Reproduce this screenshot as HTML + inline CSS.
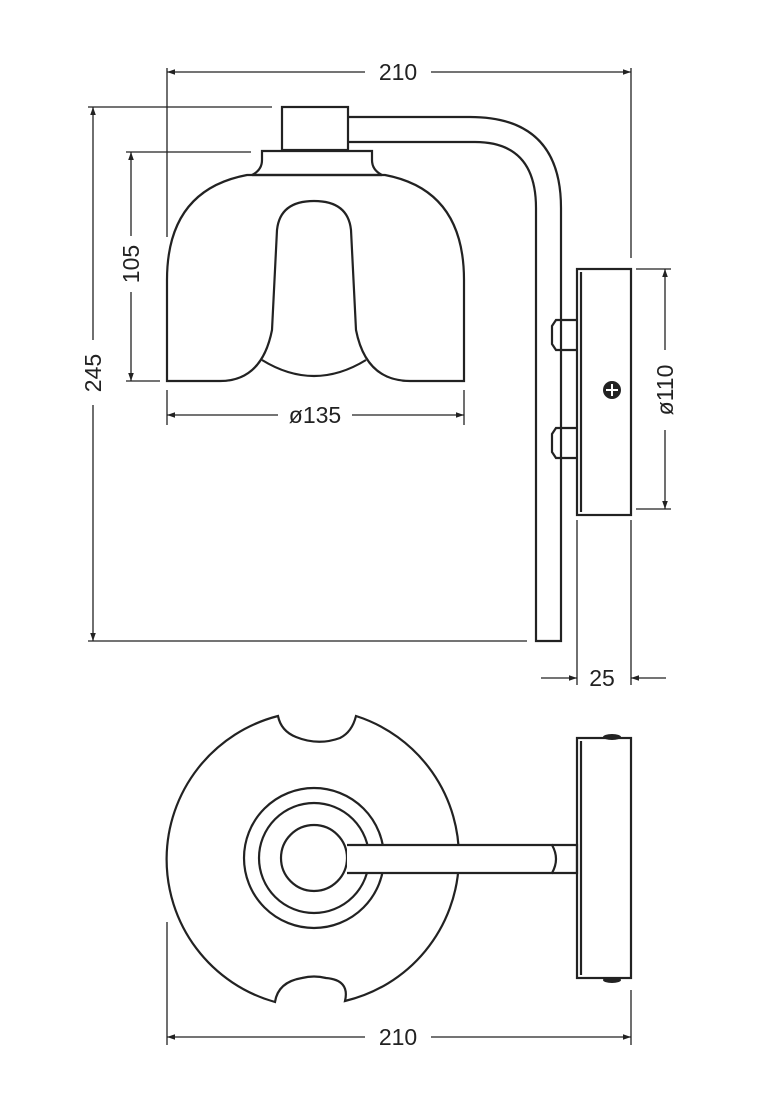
<!DOCTYPE html>
<html><head><style>body{margin:0;background:#fff}svg{display:block}text{font-family:"Liberation Sans",sans-serif;font-size:23px;fill:#222}</style></head><body>
<svg width="759" height="1113" viewBox="0 0 759 1113" xmlns="http://www.w3.org/2000/svg">
<defs><marker id="a" viewBox="0 0 10 10" refX="10" refY="5" markerWidth="10" markerHeight="8" orient="auto-start-reverse" markerUnits="userSpaceOnUse"><path d="M0,1.5L10,5L0,8.5z" fill="#222"/></marker></defs>
<g fill="none" stroke="#222" stroke-width="2.2">
<path d="M348,117 H470 Q561,117 561,208 V641 H536 V208 Q536,142 475,142 H348"/>
<path d="M348,117 Q342,130 348,142"/>
<rect x="282" y="107" width="66" height="43" fill="#fff"/>
<path d="M252,175 Q262,170 262,160 L262,151 H372 V160 Q372,170 382,175 Z"/>
<path d="M247,175 Q167,190 167,280 V381 H220 Q262,381 272,330 L277,230 Q280,201 314,201 Q348,201 351,230 L356,330 Q366,381 410,381 H464 V280 Q464,190 385,175 Z"/>
<path d="M262,360 Q314,392 366,360"/>
<rect x="577" y="269" width="54" height="246"/>
<line x1="581" y1="272" x2="581" y2="512"/>
<path d="M577,320 H556 L552,326 V344 L556,350 H577"/>
<path d="M577,428 H556 L552,434 V452 L556,458 H577"/>
</g>
<circle cx="612" cy="390" r="9" fill="#222"/>
<path d="M612,384V396M606,390H618" stroke="#fff" stroke-width="2"/>
<g stroke="#222" stroke-width="1.3" fill="none">
<line x1="167" y1="68" x2="167" y2="237"/><line x1="631" y1="68" x2="631" y2="258"/>
<line x1="167" y1="72" x2="365" y2="72" marker-start="url(#a)"/><line x1="431" y1="72" x2="631" y2="72" marker-end="url(#a)"/>
<line x1="88" y1="107" x2="272" y2="107"/><line x1="88" y1="641" x2="527" y2="641"/>
<line x1="93" y1="107" x2="93" y2="340" marker-start="url(#a)"/><line x1="93" y1="405" x2="93" y2="641" marker-end="url(#a)"/>
<line x1="126" y1="152" x2="251" y2="152"/><line x1="126" y1="381" x2="160" y2="381"/>
<line x1="131" y1="152" x2="131" y2="236" marker-start="url(#a)"/><line x1="131" y1="292" x2="131" y2="381" marker-end="url(#a)"/>
<line x1="167" y1="390" x2="167" y2="425"/><line x1="464" y1="390" x2="464" y2="425"/>
<line x1="167" y1="415" x2="278" y2="415" marker-start="url(#a)"/><line x1="352" y1="415" x2="464" y2="415" marker-end="url(#a)"/>
<line x1="636" y1="269" x2="671" y2="269"/><line x1="636" y1="509" x2="671" y2="509"/>
<line x1="665" y1="269" x2="665" y2="350" marker-start="url(#a)"/><line x1="665" y1="430" x2="665" y2="509" marker-end="url(#a)"/>
<line x1="577" y1="520" x2="577" y2="685"/><line x1="631" y1="520" x2="631" y2="685"/>
<line x1="541" y1="678" x2="577" y2="678" marker-end="url(#a)"/><line x1="666" y1="678" x2="631" y2="678" marker-end="url(#a)"/>
<line x1="167" y1="922" x2="167" y2="1045"/><line x1="631" y1="990" x2="631" y2="1045"/>
<line x1="167" y1="1037" x2="365" y2="1037" marker-start="url(#a)"/><line x1="431" y1="1037" x2="631" y2="1037" marker-end="url(#a)"/>
</g>
<text x="398" y="80" text-anchor="middle">210</text>
<text x="398" y="1045" text-anchor="middle">210</text>
<text x="315" y="423" text-anchor="middle">ø135</text>
<text x="602" y="686" text-anchor="middle">25</text>
<text transform="translate(101,373) rotate(-90)" text-anchor="middle">245</text>
<text transform="translate(139,264) rotate(-90)" text-anchor="middle">105</text>
<text transform="translate(673,390) rotate(-90)" text-anchor="middle">ø110</text>
<g fill="none" stroke="#222" stroke-width="2.2">
<path d="M278,716 Q281,731 296,737 Q318,746 340,738 Q352,732 356,716 A148,148 0 0 1 345,1001 Q350,980 326,978 Q314,975 302,978 Q278,982 275,1002 A148,148 0 0 1 278,716 Z"/>
<circle cx="314" cy="858" r="70"/><circle cx="314" cy="858" r="55"/><circle cx="314" cy="858" r="33"/>
<path d="M347,845 H552 Q560,859 552,873 H347" fill="#fff"/>
<path d="M552,845 H577 V873 H552"/>
<rect x="577" y="738" width="54" height="240"/>
<line x1="581" y1="741" x2="581" y2="975"/>
</g>
<ellipse cx="612" cy="737" rx="9" ry="3" fill="#222"/><ellipse cx="612" cy="980" rx="9" ry="3" fill="#222"/>
</svg>
</body></html>
